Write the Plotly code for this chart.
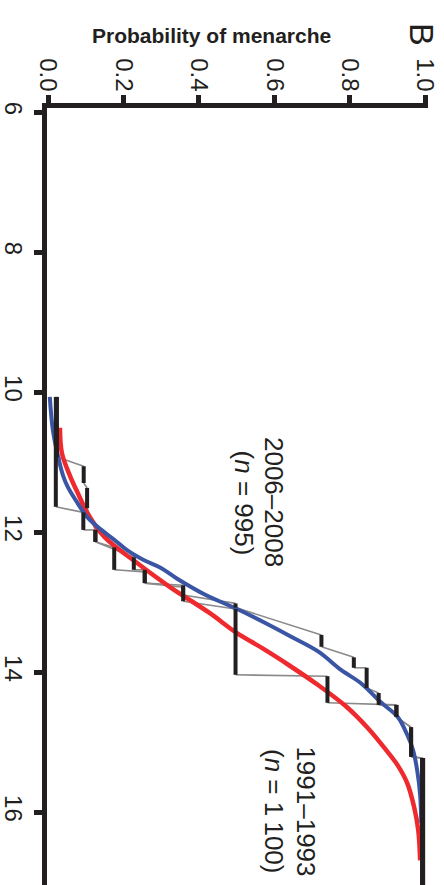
import plotly.graph_objects as go

# ---- data ----
prob_ticks = [0.0, 0.2, 0.4, 0.6, 0.8, 1.0]
prob_ticktext = ["0.0", "0.2", "0.4", "0.6", "0.8", "1.0"]
age_ticks = [6, 8, 10, 12, 14, 16]
age_ticktext = ["6", "8", "10", "12", "14", "16"]

# fitted curve 1991-1993 (red)
red_age = [10.51, 10.87, 11.19, 11.44, 11.73, 12.07, 12.44, 12.79, 13.16, 13.43, 13.66,
           13.90, 14.19, 14.49, 14.80, 15.07, 15.33, 15.59, 15.93, 16.26, 16.69]
red_prob = [0.031, 0.036, 0.057, 0.078, 0.104, 0.149, 0.235, 0.324, 0.429, 0.497, 0.568,
            0.638, 0.717, 0.790, 0.848, 0.890, 0.927, 0.953, 0.971, 0.982, 0.987]

# fitted curve 2006-2008 (blue)
blue_age = [10.07, 10.54, 10.90, 11.19, 11.36, 11.59, 11.79, 11.97, 12.11, 12.26, 12.40,
            12.51, 12.66, 12.90, 13.09, 13.30, 13.50, 13.71, 13.97, 14.16, 14.43, 14.64,
            14.90, 15.11, 15.40, 15.76, 16.16]
blue_prob = [0.004, 0.012, 0.025, 0.039, 0.052, 0.078, 0.104, 0.141, 0.175, 0.209, 0.253,
             0.298, 0.340, 0.418, 0.497, 0.576, 0.646, 0.717, 0.777, 0.830, 0.882, 0.927,
             0.953, 0.968, 0.979, 0.987, 0.990]

# observed proportions by age class: (probability, age start, age end)
upper_p = [0.023, 0.094, 0.103, 0.125, 0.227, 0.256, 0.358, 0.497, 0.725, 0.811, 0.845,
           0.877, 0.924, 0.963, 0.992]
upper_a0 = [10.07, 11.06, 11.37, 11.97, 12.36, 12.54, 12.79, 13.02, 13.47, 13.79, 13.94,
            14.30, 14.47, 14.79, 15.23]
upper_a1 = [10.93, 11.30, 11.66, 12.14, 12.54, 12.73, 12.90, 13.08, 13.64, 13.94, 14.23,
            14.47, 14.64, 15.21, 17.10]

lower_p = [0.020, 0.093, 0.125, 0.175, 0.256, 0.358, 0.497, 0.741, 0.924, 0.963, 0.995]
lower_a0 = [10.07, 11.72, 11.97, 12.22, 12.57, 12.76, 13.10, 14.06, 14.47, 14.79, 15.23]
lower_a1 = [11.64, 11.97, 12.14, 12.54, 12.73, 12.99, 14.04, 14.44, 14.64, 15.21, 17.10]

INK = "#231f20"
RED = "#ee2a2e"
BLUE = "#3b55a5"
GRAY = "#8a8a8a"
FONT = "Liberation Sans, Arial, sans-serif"


def segs(p, a0, a1):
    xs, ys = [], []
    for pi, s, e in zip(p, a0, a1):
        xs += [pi, pi, None]
        ys += [s, e, None]
    return xs, ys


def conns(p, a0, a1):
    xs, ys = [], []
    for i in range(len(p) - 1):
        xs += [p[i], p[i + 1], None]
        ys += [a1[i], a0[i + 1], None]
    return xs, ys


fig = go.Figure()
for P, A0, A1 in [(upper_p, upper_a0, upper_a1), (lower_p, lower_a0, lower_a1)]:
    cx, cy = conns(P, A0, A1)
    fig.add_trace(go.Scatter(x=cx, y=cy, mode="lines",
                             line=dict(color=GRAY, width=1.6), hoverinfo="skip"))

fig.add_trace(go.Scatter(x=red_prob, y=red_age, mode="lines",
                         line=dict(color=RED, width=4.5, shape="spline")))
fig.add_trace(go.Scatter(x=blue_prob, y=blue_age, mode="lines",
                         line=dict(color=BLUE, width=4, shape="spline")))

for P, A0, A1 in [(upper_p, upper_a0, upper_a1), (lower_p, lower_a0, lower_a1)]:
    sx, sy = segs(P, A0, A1)
    fig.add_trace(go.Scatter(x=sx, y=sy, mode="lines",
                             line=dict(color=INK, width=4), hoverinfo="skip"))

L, R, T, B = 42, 16, 108, 0
W, H = 444, 885
pw, ph = W - L - R, H - T - B


def px(x):
    return (x - L) / pw


def py(y):
    return (H - B - y) / ph


ann = []
ann.append(dict(text="<b>Probability of menarche</b>", x=px(209), y=py(35),
                font=dict(size=21, color=INK, family=FONT)))
ann.append(dict(text="B", x=px(422), y=py(34), textangle=90,
                font=dict(size=34, color=INK, family=FONT)))
ann.append(dict(text="2006\u20132008", x=px(272), y=py(502), textangle=90,
                font=dict(size=26, color=INK, family=FONT)))
ann.append(dict(text="(<i>n</i> = 995)", x=px(242), y=py(503), textangle=90,
                font=dict(size=26, color=INK, family=FONT)))
ann.append(dict(text="1991\u20131993", x=px(304), y=py(811), textangle=90,
                font=dict(size=26, color=INK, family=FONT)))
ann.append(dict(text="(<i>n</i> = 1\u2009100)", x=px(272), y=py(811), textangle=90,
                font=dict(size=26, color=INK, family=FONT)))
for a in ann:
    a.update(xref="paper", yref="paper", showarrow=False, xanchor="center", yanchor="middle")

x0 = (L - 43.3) / 381.7
x1 = (W - R - 43.3) / 381.7
y_top = 6 + (T - 112) / 70.0
y_bot = 6 + (H - B - 112) / 70.0

fig.update_layout(
    width=W, height=H,
    margin=dict(l=L, r=R, t=T, b=B, pad=0),
    paper_bgcolor="white", plot_bgcolor="white",
    showlegend=False,
    annotations=ann,
    xaxis=dict(range=[x0, x1], side="top", showgrid=False, zeroline=False,
               showline=True, linewidth=5, linecolor=INK,
               ticks="outside", ticklen=8, tickwidth=5, tickcolor=INK,
               tickvals=prob_ticks, ticktext=prob_ticktext, tickangle=90,
               ticklabelstandoff=-5,
               tickfont=dict(size=24, color=INK, family=FONT)),
    yaxis=dict(range=[y_bot, y_top], showgrid=False, zeroline=False,
               showline=True, linewidth=5, linecolor=INK,
               ticks="outside", ticklen=8, tickwidth=5, tickcolor=INK,
               tickvals=age_ticks, ticktext=age_ticktext, tickangle=90,
               tickfont=dict(size=24, color=INK, family=FONT)),
)

fig.write_html("out.html")
